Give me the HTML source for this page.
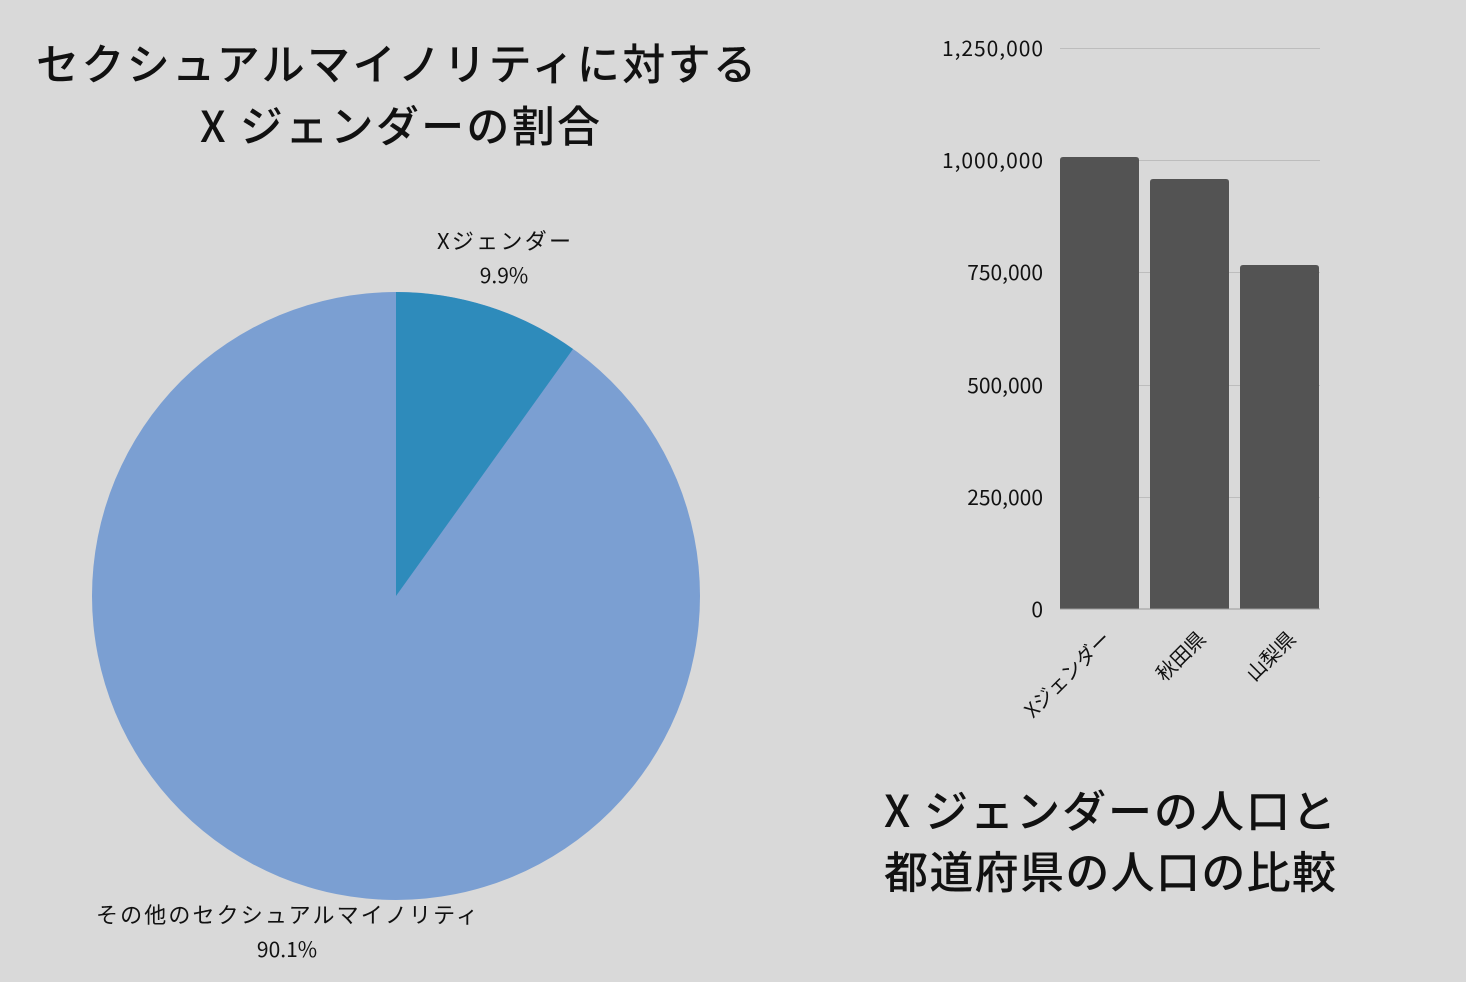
<!DOCTYPE html>
<html><head><meta charset="utf-8"><style>
html,body{margin:0;padding:0;background:#d9d9d9;}
body{width:1466px;height:977px;overflow:hidden;}
svg text{font-family:"Noto Sans CJK JP","Liberation Sans",sans-serif;fill:#111;}
</style></head><body>
<svg width="1466" height="977" xmlns="http://www.w3.org/2000/svg">
<rect width="1466" height="977" fill="#d9d9d9"/>
<text x="36" y="80" font-size="43" font-weight="500" textLength="720" lengthAdjust="spacing">セクシュアルマイノリティに対する</text>
<text x="200" y="142" font-size="43" font-weight="500" textLength="400" lengthAdjust="spacing">X ジェンダーの割合</text>
<circle cx="396" cy="596" r="304" fill="#7b9fd2"/>
<path d="M396,596 L396,292 A304,304 0 0 1 573,349 Z" fill="#2e8bbb"/>
<text x="437" y="249" font-size="22" textLength="134" lengthAdjust="spacing">Xジェンダー</text>
<text x="504" y="283" font-size="21" text-anchor="middle">9.9%</text>
<text x="96" y="923" font-size="22" textLength="382" lengthAdjust="spacing">その他のセクシュアルマイノリティ</text>
<text x="287" y="957" font-size="21" text-anchor="middle">90.1%</text>
<g stroke="#bdbdbd" stroke-width="1">
<line x1="1060" y1="48.5" x2="1320" y2="48.5"/>
<line x1="1060" y1="160.5" x2="1320" y2="160.5"/>
<line x1="1060" y1="272.5" x2="1320" y2="272.5"/>
<line x1="1060" y1="385.5" x2="1320" y2="385.5"/>
<line x1="1060" y1="497.5" x2="1320" y2="497.5"/>
</g>
<g font-size="21" text-anchor="end">
<text x="1043" y="56" textLength="101" lengthAdjust="spacing">1,250,000</text>
<text x="1043" y="168" textLength="101" lengthAdjust="spacing">1,000,000</text>
<text x="1043" y="280">750,000</text>
<text x="1043" y="393">500,000</text>
<text x="1043" y="505">250,000</text>
<text x="1043" y="617">0</text>
</g>
<g fill="#535353">
<path d="M1060,609 V160 Q1060,157 1063,157 H1136 Q1139,157 1139,160 V609 Z"/>
<path d="M1150,609 V182 Q1150,179 1153,179 H1226 Q1229,179 1229,182 V609 Z"/>
<path d="M1240,609 V268 Q1240,265 1243,265 H1316 Q1319,265 1319,268 V609 Z"/>
</g>
<line x1="1060" y1="609" x2="1320" y2="609" stroke="#999" stroke-width="1"/>
<g font-size="20" text-anchor="end">
<text transform="translate(1112,640) rotate(-45)">Xジェンダー</text>
<text transform="translate(1207,640) rotate(-45)">秋田県</text>
<text transform="translate(1297,640) rotate(-45)">山梨県</text>
</g>
<text x="884" y="827" font-size="44" font-weight="500" textLength="452" lengthAdjust="spacing">X ジェンダーの人口と</text>
<text x="884" y="888" font-size="44" font-weight="500" textLength="452" lengthAdjust="spacing">都道府県の人口の比較</text>
</svg>
</body></html>
